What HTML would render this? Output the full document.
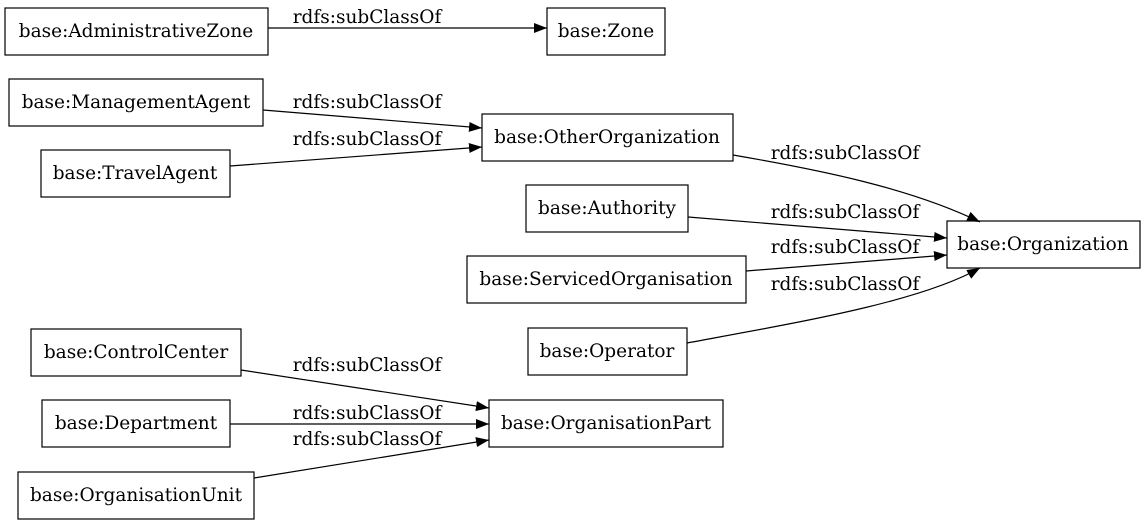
<!DOCTYPE html>
<html><head><meta charset="utf-8"><style>
html,body{margin:0;padding:0;background:#fff;}
svg{display:block;}
text{font-family:"DejaVu Serif","Liberation Serif",serif;font-size:18.5px;fill:#000;}
</style></head><body>
<svg width="1148" height="527" viewBox="0 0 1148 527" xmlns="http://www.w3.org/2000/svg">
<defs>
<marker id="a" markerWidth="14" markerHeight="10" refX="13" refY="5" orient="auto" markerUnits="userSpaceOnUse">
<path d="M0,0 L13,5 L0,10 Z" fill="#000"/>
</marker>
</defs>
<g fill="none" stroke="#000" stroke-width="1.2">
<rect x="5" y="8" width="263" height="47"/>
<rect x="547" y="8" width="118" height="47"/>
<rect x="9" y="79" width="254" height="47"/>
<rect x="482" y="114" width="251" height="47"/>
<rect x="41" y="150" width="189" height="47"/>
<rect x="526" y="185" width="162" height="47"/>
<rect x="947" y="221" width="193" height="47"/>
<rect x="467" y="256" width="279" height="47"/>
<rect x="528" y="328" width="159" height="47"/>
<rect x="31" y="329" width="210" height="47"/>
<rect x="489" y="400" width="234" height="47"/>
<rect x="42" y="400" width="188" height="47"/>
<rect x="18" y="472" width="236" height="47"/>
</g>
<g fill="none" stroke="#000" stroke-width="1.2" marker-end="url(#a)">
<path d="M268,28 L547,28"/>
<path d="M263,110 L482,128"/>
<path d="M230,166 L482,147"/>
<path d="M733,155 C820,170 910,188 980,222"/>
<path d="M688,217 L947,238"/>
<path d="M746,271 L947,255"/>
<path d="M687,343 C800,322 920,302 980,268"/>
<path d="M241,370 L489,408"/>
<path d="M230,424 L489,424"/>
<path d="M254,478 L489,440"/>
</g>
<g text-anchor="middle">
<text x="136" y="37">base:AdministrativeZone</text>
<text x="606" y="37">base:Zone</text>
<text x="136" y="108">base:ManagementAgent</text>
<text x="607" y="143">base:OtherOrganization</text>
<text x="135" y="179">base:TravelAgent</text>
<text x="607" y="214">base:Authority</text>
<text x="1043" y="250">base:Organization</text>
<text x="606" y="285">base:ServicedOrganisation</text>
<text x="607" y="357">base:Operator</text>
<text x="136" y="358">base:ControlCenter</text>
<text x="606" y="429">base:OrganisationPart</text>
<text x="136" y="429">base:Department</text>
<text x="136" y="501">base:OrganisationUnit</text>
<text x="367" y="23">rdfs:subClassOf</text>
<text x="367" y="108">rdfs:subClassOf</text>
<text x="367" y="145">rdfs:subClassOf</text>
<text x="845" y="159">rdfs:subClassOf</text>
<text x="845" y="218">rdfs:subClassOf</text>
<text x="845" y="253">rdfs:subClassOf</text>
<text x="845" y="290">rdfs:subClassOf</text>
<text x="367" y="371">rdfs:subClassOf</text>
<text x="367" y="419">rdfs:subClassOf</text>
<text x="367" y="445">rdfs:subClassOf</text>
</g>
</svg>
</body></html>
